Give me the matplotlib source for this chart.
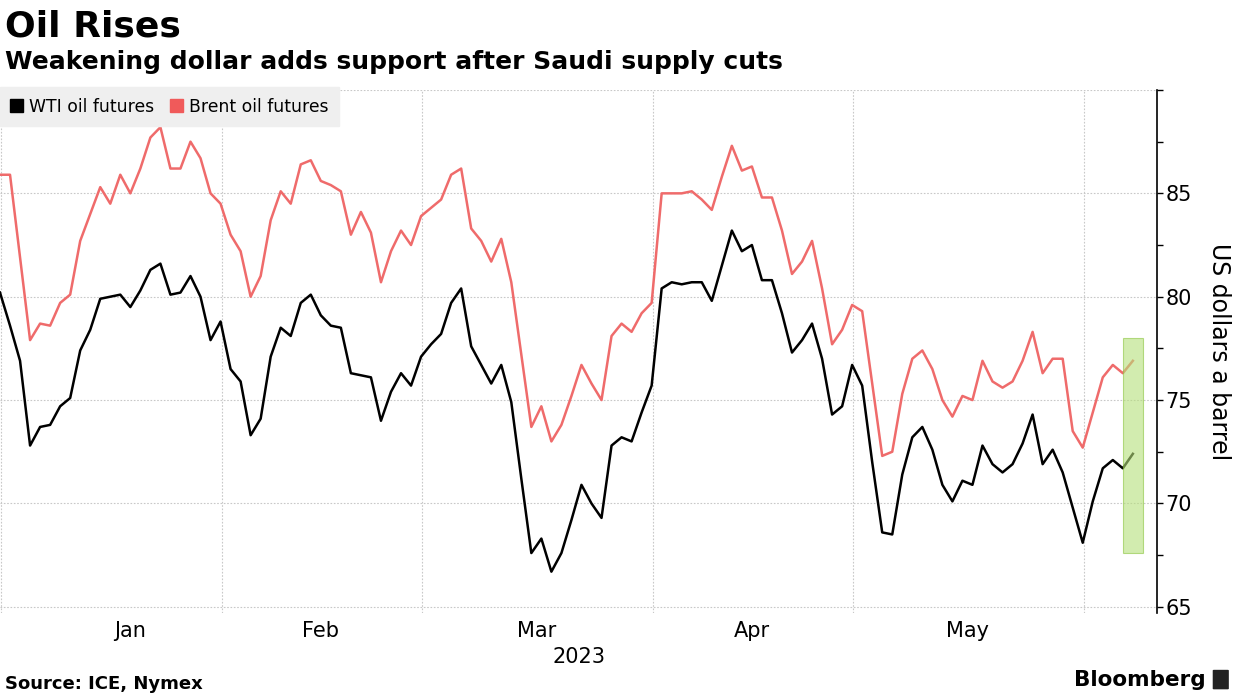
import numpy as np
import pandas as pd
import matplotlib.pyplot as plt
import matplotlib.patches as mpatches

# Daily settlements, business days from 2 Jan 2023
wti = [80.2, 78.6, 76.9, 72.8, 73.7, 73.8, 74.7, 75.1, 77.4, 78.4,
       79.9, 80.0, 80.1, 79.5, 80.3, 81.3, 81.6, 80.1, 80.2, 81.0,
       80.0, 77.9, 78.8, 76.5, 75.9, 73.3, 74.1, 77.1, 78.5, 78.1,
       79.7, 80.1, 79.1, 78.6, 78.5, 76.3, 76.2, 76.1, 74.0, 75.4,
       76.3, 75.7, 77.1, 77.7, 78.2, 79.7, 80.4, 77.6, 76.7, 75.8,
       76.7, 74.9, 71.2, 67.6, 68.3, 66.7, 67.6, 69.2, 70.9, 70.0,
       69.3, 72.8, 73.2, 73.0, 74.4, 75.7, 80.4, 80.7, 80.6, 80.7,
       80.7, 79.8, 81.5, 83.2, 82.2, 82.5, 80.8, 80.8, 79.2, 77.3,
       77.9, 78.7, 77.0, 74.3, 74.7, 76.7, 75.7, 72.0, 68.6, 68.5,
       71.4, 73.2, 73.7, 72.6, 70.9, 70.1, 71.1, 70.9, 72.8, 71.9,
       71.5, 71.9, 72.9, 74.3, 71.9, 72.6, 71.5, 69.8, 68.1, 70.1,
       71.7, 72.1, 71.7, 72.4]
brent = [85.9, 85.9, 81.9, 77.9, 78.7, 78.6, 79.7, 80.1, 82.7, 84.0,
         85.3, 84.5, 85.9, 85.0, 86.2, 87.7, 88.2, 86.2, 86.2, 87.5,
         86.7, 85.0, 84.5, 83.0, 82.2, 80.0, 81.0, 83.7, 85.1, 84.5,
         86.4, 86.6, 85.6, 85.4, 85.1, 83.0, 84.1, 83.1, 80.7, 82.2,
         83.2, 82.5, 83.9, 84.3, 84.7, 85.9, 86.2, 83.3, 82.7, 81.7,
         82.8, 80.7, 77.2, 73.7, 74.7, 73.0, 73.8, 75.2, 76.7, 75.8,
         75.0, 78.1, 78.7, 78.3, 79.2, 79.7, 85.0, 85.0, 85.0, 85.1,
         84.7, 84.2, 85.8, 87.3, 86.1, 86.3, 84.8, 84.8, 83.2, 81.1,
         81.7, 82.7, 80.4, 77.7, 78.4, 79.6, 79.3, 75.8, 72.3, 72.5,
         75.3, 77.0, 77.4, 76.5, 75.0, 74.2, 75.2, 75.0, 76.9, 75.9,
         75.6, 75.9, 76.9, 78.3, 76.3, 77.0, 77.0, 73.5, 72.7, 74.4,
         76.1, 76.7, 76.3, 76.9]
dates = pd.bdate_range('2023-01-02', periods=len(wti))
months = ['Jan', 'Feb', 'Mar', 'Apr', 'May']

x = np.arange(len(dates))
# month boundaries on the business-day axis
bounds = [i for i in range(len(dates)) if i == 0 or dates[i].month != dates[i - 1].month]

plt.rcParams['font.family'] = ['Liberation Sans Narrow', 'DejaVu Sans']

fig = plt.figure(figsize=(12.4, 6.97), dpi=100)
ax = fig.add_axes([0.0, 0.1205, 0.933, 0.7504])

ax.plot(x, wti, color='black', lw=1.8, zorder=3)
ax.plot(x, brent, color='#ef6b6b', lw=1.8, zorder=3)

# highlight on the latest move
ax.add_patch(mpatches.Rectangle((x[-1] - 1, 67.6), 2, 10.4, facecolor='#b5e07a',
                                edgecolor='#8cc63f', lw=0.8, alpha=0.6, zorder=4))

ax.set_xlim(0, 115.4)
ax.set_ylim(64.7, 90)

# gridlines
ax.set_yticks(np.arange(65, 91, 5))
ax.set_yticks(np.arange(67.5, 90, 5), minor=True)
ax.set_yticklabels(['65', '70', '75', '80', '85', ''])
for yv in np.arange(65, 91, 5):
    ax.axhline(yv, color='#c8c8c8', lw=0.8, ls=(0, (1.5, 1.5)), zorder=1)
for b in bounds:
    ax.axvline(b + 0.1, color='#c8c8c8', lw=0.8, ls=(0, (1.5, 1.5)), zorder=1)

ax.yaxis.tick_right()
ax.tick_params(axis='y', which='both', direction='out', length=4, width=1,
               labelsize=15, pad=2, colors='black')
ax.yaxis.set_label_position('right')
ax.set_ylabel('US dollars a barrel', rotation=-90, fontsize=17, labelpad=28,
              family='DejaVu Sans')

label_pos = [13, 32, 53.5, 75, 96.5]
ax.set_xticks(label_pos)
ax.set_xticklabels(months, fontsize=15)
ax.tick_params(axis='x', length=0, pad=6)
ax.text(57.8, -0.065, '2023', transform=ax.get_xaxis_transform(), ha='center',
        va='top', fontsize=15)

for s in ['top', 'left', 'bottom']:
    ax.spines[s].set_visible(False)
ax.spines['right'].set_linewidth(1.2)

handles = [mpatches.Patch(color='black'), mpatches.Patch(color='#f05a5a')]
leg = ax.legend(handles, ['WTI oil futures', 'Brent oil futures'], loc='upper left',
                bbox_to_anchor=(0, 1.005), ncol=2, frameon=True, fancybox=False,
                framealpha=1, facecolor='#efefef', edgecolor='#efefef',
                handlelength=0.75, handleheight=0.75, handletextpad=0.35,
                columnspacing=0.9, borderaxespad=0, borderpad=0.6,
                prop={'family': 'DejaVu Sans', 'size': 12.4})
leg.set_zorder(5)

fig.text(0.004, 0.962, 'Oil Rises', fontsize=26, fontweight='bold',
         family='DejaVu Sans', va='center')
fig.text(0.004, 0.911, 'Weakening dollar adds support after Saudi supply cuts',
         fontsize=18, fontweight='bold', family='DejaVu Sans', va='center')
fig.text(0.004, 0.019, 'Source: ICE, Nymex', fontsize=13, fontweight='bold',
         family='DejaVu Sans', va='center')
fig.text(0.972, 0.024, 'Bloomberg', fontsize=15.5, fontweight='bold',
         family='DejaVu Sans', va='center', ha='right')
fig.patches.append(mpatches.FancyBboxPatch((0.979, 0.012), 0.011, 0.026,
                   boxstyle='round,pad=0.001', transform=fig.transFigure,
                   facecolor='#222222', edgecolor='none'))

fig.savefig('out.png', dpi=100)
